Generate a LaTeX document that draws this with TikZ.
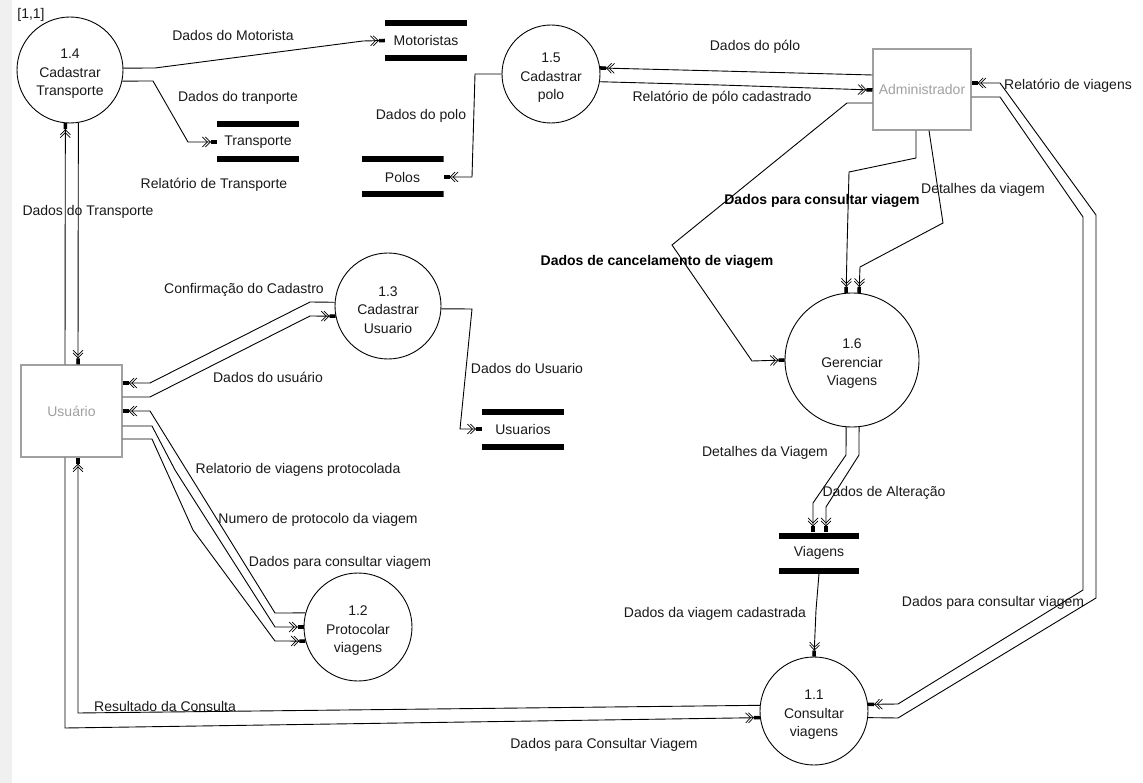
\documentclass[tikz,border=0pt]{standalone}
\usepackage{fontspec}
\setmainfont{Liberation Sans}
\usetikzlibrary{arrows.meta}
\definecolor{entgray}{RGB}{160,160,160}
\definecolor{stripgray}{RGB}{240,240,240}
\definecolor{txt}{RGB}{25,25,25}
\begin{document}
\begin{tikzpicture}[x=1pt,y=-1pt,
  font=\fontsize{14}{18.5}\selectfont,
  proc/.style={circle, draw, line width=0.9pt, inner sep=0pt, minimum size=#1},
  ptext/.style={inner sep=0pt, align=center, text=txt, yshift=-4pt},
  store/.style={minimum width=82pt, minimum height=41pt, inner sep=0pt, text=txt,
    path picture={\fill[black] (path picture bounding box.north west) rectangle ([yshift=-6pt]path picture bounding box.north east);
                  \fill[black] (path picture bounding box.south west) rectangle ([yshift=6pt]path picture bounding box.south east);}},
  ent/.style={draw=entgray, line width=1.1pt, text=entgray, inner sep=0pt},
  flow/.style={line width=0.9pt, -{Straight Barb[length=5pt,width=10pt,line width=0.7pt,sep=-3pt] Straight Barb[length=5pt,width=10pt,line width=0.7pt,sep=0pt] Rectangle[length=6pt,width=3.5pt]}},
  lbl/.style={inner sep=0pt, text=txt},
  blbl/.style={inner sep=0pt, text=black, font=\fontsize{14}{17}\selectfont\bfseries}
]
\useasboundingbox (0,0) rectangle (1143,783);
\fill[stripgray] (0,0) rectangle (12,783);

% processes
\node[proc=106pt, label={[ptext]center:1.4\\Cadastrar\\Transporte}] (p14) at (70,70) {};
\node[proc=98pt,  label={[ptext]center:1.5\\Cadastrar\\polo}] (p15) at (551,74) {};
\node[proc=106pt, label={[ptext]center:1.3\\Cadastrar\\Usuario}] (p13) at (388,306) {};
\node[proc=108pt, label={[ptext]center:1.2\\Protocolar\\viagens}] (p12) at (358,627) {};
\node[proc=108pt, label={[ptext]center:1.1\\Consultar\\viagens}] (p11) at (814,711) {};
\node[proc=134pt, label={[ptext]center:1.6\\Gerenciar\\Viagens}] (p16) at (852,360) {};

% data stores
\node[store] (mot) at (426,40.5) {Motoristas};
\node[store] (trp) at (258,142) {Transporte};
\node[store] (pol) at (402.5,177) {Polos};
\node[store] (usu) at (523,429) {Usuarios};
\node[store, minimum width=80pt] (vgn) at (819,553) {Viagens};

% external entities
\node[ent, minimum width=101pt, minimum height=92pt] (usr) at (71.5,411) {Usuário};
\node[ent, minimum width=98pt, minimum height=81pt] (adm) at (922,89.5) {Administrador};

% 1.4 flows
\draw[flow] (p14.2) -- (155,68) -- (363,41) -- (mot.west);
\draw[flow] (p14.-12) -- (153,81) -- (188,142) -- (trp.west);
\draw[flow] ([xshift=-6.5pt]usr.north) -- (p14.265);
\draw[flow] (p14.-81) -- ([xshift=6.5pt]usr.north);

% 1.5 flows
\draw[flow] ([yshift=14.5pt]adm.west) -- (720,71) -- (p15.7);
\draw[flow] (p15.-9) -- (720,85) -- ([yshift=-0.5pt]adm.west);
\draw[flow] (p15.180) -- (475,74) -- (472,177) -- (pol.east);

% 1.3 flows
\draw[flow] (p13.176) -- (310,302) -- (150,383) -- ([yshift=28pt]usr.east);
\draw[flow] ([yshift=14pt]usr.east) -- (150,397) -- (310,316) -- (p13.191);
\draw[flow] (p13.-3) -- (472,309) -- (460,429) -- (usu.west);

% 1.2 flows
\draw[flow] (p12.165) -- (275,613) -- (150,411) -- (usr.east);
\draw[flow] ([yshift=-15pt]usr.east) -- (152,426) -- (175,470) -- (275,627) -- (p12.180);
\draw[flow] ([yshift=-28pt]usr.east) -- (152,439) -- (193,530) -- (275,641) -- (p12.195);

% 1.1 flows (left)
\draw[flow] ([xshift=-6.5pt]usr.south) -- (65,728) -- (p11.187);
\draw[flow] (p11.174) -- (78,713) -- ([xshift=6.5pt]usr.south);
\draw[flow] (vgn.south) -- (816,610) -- (p11.north);

% 1.1 <-> Administrador (right)
\draw[flow] ([yshift=-7.5pt]adm.east) -- (1000,97) -- (1083,217) -- (1083,590) -- (898,704) -- (p11.7);
\draw[flow] (p11.-7) -- (898,718) -- (1096,598) -- (1096,215) -- (1000,83) -- ([yshift=6.5pt]adm.east);

% 1.6 flows
\draw[flow] ([xshift=-6pt]adm.south) -- (916,158) -- (849,172) -- (847,250) -- (p16.95);
\draw[flow] ([xshift=7pt]adm.south) -- (943,223) -- (860,267) -- (p16.84);
\draw[flow] ([yshift=-13.5pt]adm.west) -- (847,103) -- (672,245) -- (752,361) -- (p16.west);
\draw[flow] (p16.265) -- (846,455) -- (813,503) -- ([xshift=-6pt]vgn.north);
\draw[flow] (p16.276) -- (859,455) -- (826,507) -- ([xshift=7pt]vgn.north);

% labels
\node[lbl] (l0) at (31,15) {[1,1]};
\node[lbl] (l1) at (233,36) {Dados do Motorista};
\node[lbl] (l2) at (238,98) {Dados do tranporte};
\node[lbl] (l3) at (214,185) {Relatório de Transporte};
\node[lbl] (l4) at (88,212) {Dados do Transporte};
\node[lbl] (l5) at (755,47) {Dados do pólo};
\node[lbl] (l6) at (722,98) {Relatório de pólo cadastrado};
\node[lbl] (l7) at (421,116) {Dados do polo};
\node[lbl] (l8) at (1068,86) {Relatório de viagens};
\node[blbl] (l9) at (822,201) {Dados para consultar viagem};
\node[lbl] (l10) at (983,190) {Detalhes da viagem};
\node[blbl] (l11) at (657,262) {Dados de cancelamento de viagem};
\node[lbl] (l12) at (244,290) {Confirmação do Cadastro};
\node[lbl] (l13) at (268,377) {Dados do usuário};
\node[lbl] (l14) at (527,368) {Dados do Usuario};
\node[lbl] (l15) at (298,470) {Relatorio de viagens protocolada};
\node[lbl] (l16) at (318,520) {Numero de protocolo da viagem};
\node[lbl] (l17) at (340,563) {Dados para consultar viagem};
\node[lbl] (l18) at (765,453) {Detalhes da Viagem};
\node[lbl] (l19) at (884,493) {Dados de Alteração};
\node[lbl] (l20) at (715,614) {Dados da viagem cadastrada};
\node[lbl] (l21) at (993,603) {Dados para consultar viagem};
\node[lbl] (l22) at (165,706) {Resultado da Consulta};
\node[lbl] (l23) at (604,745) {Dados para Consultar Viagem};
\end{tikzpicture}
\end{document}
